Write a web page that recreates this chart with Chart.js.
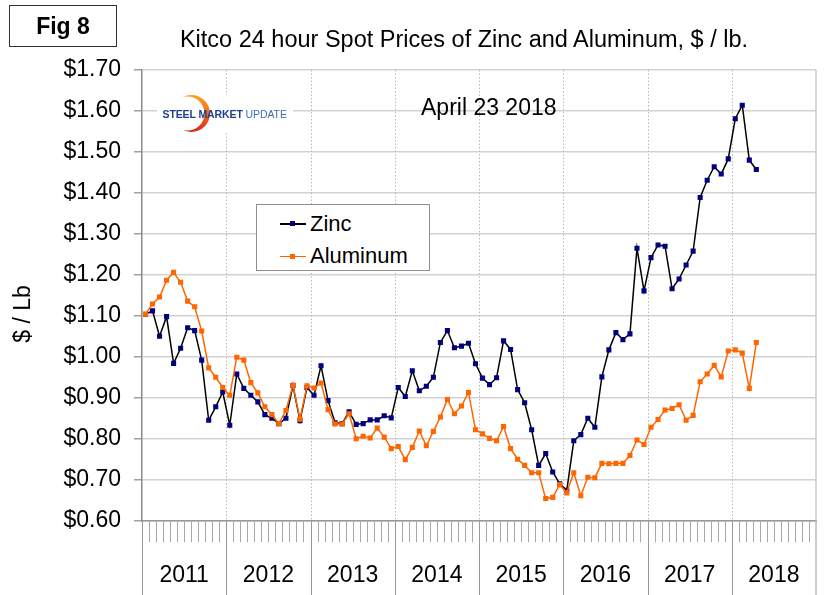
<!DOCTYPE html>
<html>
<head>
<meta charset="utf-8">
<script src="https://cdn.jsdelivr.net/npm/chart.js@4.4.1/dist/chart.umd.min.js"></script>
<style>
  html, body { margin:0; padding:0; background:#fff; }
  #wrap { position:relative; width:824px; height:595px; overflow:hidden; background:#fff; font-family:"Liberation Sans", Arial, sans-serif; color:#000; }
  #c { position:absolute; left:0; top:0; }
  .abs { position:absolute; white-space:nowrap; }
</style>
</head>
<body>
<div id="wrap">
  <canvas id="c" width="824" height="595"></canvas>

  <div class="abs" style="left:9px;top:5px;width:108px;height:42px;box-sizing:border-box;border:1.5px solid #333;display:flex;align-items:center;justify-content:center;font-weight:bold;font-size:23px;line-height:23px;">Fig 8</div>

  <div class="abs" style="left:164px;top:28px;width:600px;text-align:center;font-size:23.5px;line-height:23.5px;">Kitco 24 hour Spot Prices of Zinc and Aluminum, $ / lb.</div>

  <div class="abs" style="left:-28px;top:301.5px;width:100px;height:24px;line-height:24px;text-align:center;font-size:23px;transform:rotate(-90deg);">$ / Lb</div>

  <div class="abs" style="left:421px;top:96px;font-size:23px;line-height:23px;">April 23 2018</div>

  <div class="abs" style="left:157px;top:95px;width:136px;height:38px;background:#fff;">
    <svg width="136" height="38" style="position:absolute;left:0;top:0;">
      <defs>
        <linearGradient id="g1" x1="0" y1="0" x2="0" y2="1">
          <stop offset="0" stop-color="#f9a51b"/>
          <stop offset="0.5" stop-color="#f26a1f"/>
          <stop offset="1" stop-color="#d9261c"/>
        </linearGradient>
      </defs>
      <circle cx="34.5" cy="18.5" r="18.5" fill="url(#g1)"/>
      <circle cx="30.5" cy="18.5" r="17" fill="#fff"/>
    </svg>
    <div class="abs" style="left:5.5px;top:13.5px;font-size:10.5px;line-height:11px;letter-spacing:-0.1px;">
      <span style="font-weight:bold;color:#1d3f8c;">STEEL MARKET</span> <span style="color:#3d6db3;">UPDATE</span>
    </div>
  </div>

  <div class="abs" style="left:256px;top:204px;width:174px;height:67px;box-sizing:border-box;border:1.5px solid #8f8f8f;background:#fff;">
    <div class="abs" style="left:23px;top:18px;width:26px;height:1.5px;background:#000;"></div>
    <div class="abs" style="left:33px;top:16.3px;width:5px;height:5px;background:#000080;"></div>
    <div class="abs" style="left:53px;top:7.5px;font-size:22px;line-height:22px;">Zinc</div>
    <div class="abs" style="left:23px;top:50.5px;width:26px;height:1.5px;background:#ff6600;"></div>
    <div class="abs" style="left:33px;top:48.8px;width:5px;height:5px;background:#ff6600;"></div>
    <div class="abs" style="left:53px;top:40px;font-size:22px;line-height:22px;">Aluminum</div>
  </div>
</div>

<script>
// ---- data ----
const years = ['2011','2012','2013','2014','2015','2016','2017','2018'];
const monthNames = ['Jan','Feb','Mar','Apr','May','Jun','Jul','Aug','Sep','Oct','Nov','Dec'];
const categories = [];
years.forEach(y => monthNames.forEach(m => categories.push(m + ' ' + y)));

const zinc = [
  1.104, 1.112, 1.050, 1.098, 0.984, 1.021, 1.071, 1.064, 0.992, 0.845, 0.878, 0.914,
  0.833, 0.958, 0.923, 0.906, 0.890, 0.859, 0.850, 0.837, 0.850, 0.930, 0.844, 0.925,
  0.906, 0.978, 0.893, 0.839, 0.837, 0.866, 0.835, 0.837, 0.846, 0.846, 0.856, 0.851,
  0.925, 0.903, 0.966, 0.917, 0.928, 0.950, 1.035, 1.064, 1.022, 1.026, 1.033, 0.983,
  0.948, 0.932, 0.949, 1.039, 1.018, 0.920, 0.888, 0.822, 0.735, 0.764, 0.719, 0.690,
  0.674, 0.795, 0.810, 0.850, 0.828, 0.951, 1.017, 1.059, 1.042, 1.056, 1.265, 1.161,
  1.242, 1.273, 1.270, 1.166, 1.190, 1.224, 1.258, 1.389, 1.431, 1.464, 1.446, 1.483,
  1.581, 1.614, 1.480, 1.457
];
const aluminum = [
  1.104, 1.129, 1.146, 1.187, 1.206, 1.182, 1.136, 1.122, 1.063, 0.973, 0.950, 0.925,
  0.906, 0.999, 0.992, 0.937, 0.912, 0.878, 0.859, 0.837, 0.869, 0.931, 0.848, 0.929,
  0.924, 0.936, 0.871, 0.836, 0.836, 0.861, 0.800, 0.806, 0.802, 0.826, 0.804, 0.776,
  0.781, 0.749, 0.779, 0.819, 0.783, 0.818, 0.853, 0.896, 0.861, 0.880, 0.913, 0.822,
  0.812, 0.801, 0.795, 0.830, 0.776, 0.750, 0.735, 0.717, 0.717, 0.654, 0.657, 0.688,
  0.668, 0.717, 0.661, 0.706, 0.705, 0.740, 0.739, 0.740, 0.740, 0.759, 0.797, 0.786,
  0.828, 0.847, 0.870, 0.874, 0.883, 0.845, 0.857, 0.939, 0.958, 0.979, 0.951, 1.014,
  1.017, 1.009, 0.923, 1.035
];
const yMin = 0.60, yMax = 1.70, yStep = 0.10;

const FONT = '"Liberation Sans", Arial, sans-serif';

const decor = {
  id: 'decor',
  beforeDatasetsDraw(chart) {
    const { ctx, chartArea: a, scales: { x } } = chart;
    ctx.save();
    // dotted vertical year gridlines
    ctx.strokeStyle = '#b8b8b8';
    ctx.lineWidth = 1;
    ctx.setLineDash([1.5, 2]);
    for (let k = 1; k < years.length; k++) {
      const bx = Math.round(x.getPixelForValue(k * 12 - 0.5)) + 0.5;
      ctx.beginPath(); ctx.moveTo(bx, a.top); ctx.lineTo(bx, a.bottom); ctx.stroke();
    }
    ctx.setLineDash([]);
    // right plot border
    ctx.strokeStyle = '#c8c8c8';
    ctx.lineWidth = 1.5;
    ctx.beginPath(); ctx.moveTo(a.right, a.top); ctx.lineTo(a.right, a.bottom); ctx.stroke();
    ctx.restore();
  },
  afterDraw(chart) {
    const { ctx, chartArea: a, scales: { x } } = chart;
    const H = chart.height;
    ctx.save();
    // minor ticks at month boundaries
    ctx.strokeStyle = '#a8a8a8';
    ctx.lineWidth = 1;
    for (let i = 1; i < categories.length; i++) {
      if (i % 12 === 0) continue;
      const bx = Math.round(x.getPixelForValue(i - 0.5)) + 0.5;
      ctx.beginPath(); ctx.moveTo(bx, a.bottom); ctx.lineTo(bx, a.bottom + 21.5); ctx.stroke();
    }
    // year separators
    ctx.strokeStyle = '#9a9a9a';
    for (let k = 0; k <= years.length; k++) {
      let bx = x.getPixelForValue(k * 12 - 0.5);
      bx = Math.round(bx) + 0.5;
      if (k === years.length) bx = a.right;
      ctx.beginPath(); ctx.moveTo(bx, a.bottom); ctx.lineTo(bx, H); ctx.stroke();
    }
    // year labels
    ctx.fillStyle = '#000';
    ctx.font = '23px ' + FONT;
    ctx.textAlign = 'center';
    ctx.textBaseline = 'middle';
    years.forEach((y, k) => {
      const cx = (x.getPixelForValue(k * 12 - 0.5) + x.getPixelForValue(k * 12 + 11.5)) / 2;
      ctx.fillText(y, cx, 576);
    });
    ctx.restore();
  }
};

new Chart(document.getElementById('c'), {
  type: 'line',
  data: {
    labels: categories,
    datasets: [
      {
        label: 'Zinc', data: zinc, order: 1,
        borderColor: '#000000', borderWidth: 1.5, tension: 0,
        pointStyle: 'rect', pointRadius: 3.6, pointBorderWidth: 0,
        pointBackgroundColor: '#000080', pointBorderColor: '#000080'
      },
      {
        label: 'Aluminum', data: aluminum, order: 0,
        borderColor: '#ff6600', borderWidth: 1.5, tension: 0,
        pointStyle: 'rect', pointRadius: 3.6, pointBorderWidth: 0,
        pointBackgroundColor: '#ff6600', pointBorderColor: '#ff6600'
      }
    ]
  },
  options: {
    responsive: false,
    animation: false,
    devicePixelRatio: 1,
    layout: { padding: { top: 70, right: 8, left: 0, bottom: 0 } },
    plugins: { legend: { display: false }, title: { display: false }, tooltip: { enabled: false } },
    scales: {
      x: {
        type: 'category', offset: true,
        grid: { display: false },
        ticks: { display: false },
        border: { display: true, color: '#9a9a9a', width: 1.5 },
        afterFit(s) { s.height = 74.3; }
      },
      y: {
        min: yMin, max: yMax,
        ticks: {
          stepSize: yStep,
          callback: v => '$' + Number(v).toFixed(2),
          font: { family: FONT, size: 23 },
          color: '#000', padding: 13
        },
        grid: { color: '#d2d2d2', lineWidth: 1.5, tickLength: 8, tickColor: '#a0a0a0' },
        border: { display: true, color: '#8a8a8a', width: 1.5 },
        afterFit(s) { s.width = 142; }
      }
    }
  },
  plugins: [decor]
});
</script>
</body>
</html>
